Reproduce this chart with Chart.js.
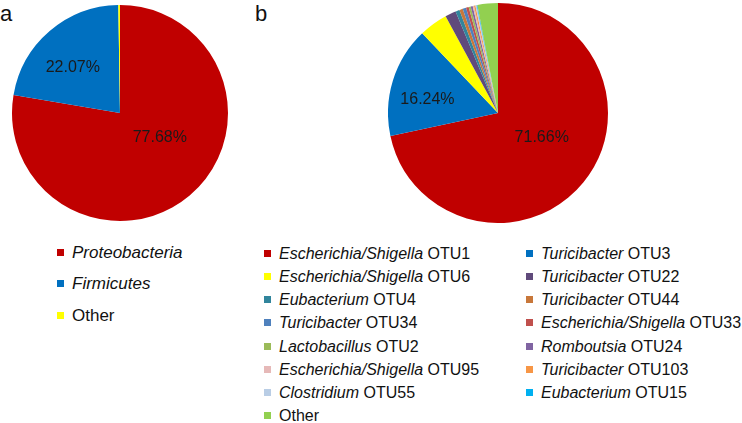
<!DOCTYPE html>
<html lang="en">
<head>
  <meta charset="UTF-8">
  <title>Pie charts a / b</title>
  <script src="https://cdn.jsdelivr.net/npm/chart.js"></script>
  <style>
    html, body { margin: 0; padding: 0; background: #fff; }
    body { width: 742px; height: 423px; position: relative; overflow: hidden;
           font-family: "Liberation Sans", Arial, sans-serif; color: #111; }
    .panel-letter { position: absolute; font-size: 22px; line-height: 22px; }
    .pie-box { position: absolute; }
    .legend { position: absolute; }
    .legend .item { position: absolute; white-space: nowrap; }
    .legend .sw { display: inline-block; width: 7px; height: 7px; margin-right: 8px; vertical-align: 2px; }
  </style>
</head>
<body>
  <div class="panel-letter" style="left:0px; top:3px;">a</div>
  <div class="panel-letter" style="left:255px; top:3px;">b</div>

  <div class="pie-box" style="left:0px; top:0px; width:240px; height:226px;">
    <canvas id="phylumChart"></canvas>
  </div>
  <div class="pie-box" style="left:388px; top:3px; width:220px; height:220px;">
    <canvas id="otuChart"></canvas>
  </div>

  <div class="legend" id="phylumLegend"></div>
  <div class="legend" id="otuLegend"></div>

<script>
  // panel a: phylum level
  const phylumNames = ['Proteobacteria', 'Firmicutes', 'Other'];
  const phylumItalic = [true, true, false];
  const phylumValues = [77.68, 22.07, 0.25];
  const phylumColors = ['#C00000', '#0070C0', '#FFFF00'];

  // panel b: OTU level (clockwise from 12 o'clock)
  const otuGenus = ['Escherichia/Shigella', 'Turicibacter', 'Escherichia/Shigella', 'Turicibacter',
    'Eubacterium', 'Turicibacter', 'Turicibacter', 'Escherichia/Shigella', 'Lactobacillus',
    'Romboutsia', 'Escherichia/Shigella', 'Turicibacter', 'Clostridium', 'Eubacterium', 'Other'];
  const otuIds = ['OTU1', 'OTU3', 'OTU6', 'OTU22', 'OTU4', 'OTU44', 'OTU34', 'OTU33', 'OTU2',
    'OTU24', 'OTU95', 'OTU103', 'OTU55', 'OTU15', ''];
  const otuValues = [71.66, 16.24, 4.2, 1.6, 0.6, 0.5, 0.5, 0.4, 0.3, 0.3, 0.2, 0.2, 0.2, 0.1, 3.0];
  const otuColors = ['#C00000', '#0070C0', '#FFFF00', '#604A7B', '#31859C', '#C8773A', '#4F81BD',
    '#C0504D', '#9BBB59', '#8064A2', '#E6B9B8', '#F79646', '#B9CDE5', '#00B0F0', '#92D050'];

  // draws "xx.xx%" on the big slices
  const pctLabels = {
    id: 'pctLabels',
    afterDatasetsDraw(chart, args, opts) {
      const ctx = chart.ctx;
      const data = chart.data.datasets[0].data;
      const arcs = chart.getDatasetMeta(0).data;
      ctx.save();
      ctx.font = '16px "Liberation Sans", Arial, sans-serif';
      ctx.fillStyle = '#1a1a1a';
      ctx.textAlign = 'center';
      ctx.textBaseline = 'middle';
      arcs.forEach((arc, i) => {
        if (data[i] < 10) return;
        const p = arc.tooltipPosition(true);
        const n = (opts.nudge && opts.nudge[i]) || [0, 0];
        ctx.fillText(data[i].toFixed(2) + '%', p.x + n[0], p.y + n[1]);
      });
      ctx.restore();
    }
  };

  function pieOptions(radius, nudge) {
    return {
      responsive: true,
      maintainAspectRatio: false,
      animation: false,
      radius: radius,
      layout: { padding: 0 },
      plugins: {
        legend: { display: false },
        tooltip: { enabled: false },
        pctLabels: { nudge: nudge }
      }
    };
  }

  new Chart(document.getElementById('phylumChart'), {
    type: 'pie',
    data: {
      labels: phylumNames,
      datasets: [{ data: phylumValues, backgroundColor: phylumColors, borderWidth: 0, hoverOffset: 0 }]
    },
    options: pieOptions(108, [[5, -17], [-12, -4]]),
    plugins: [pctLabels]
  });

  new Chart(document.getElementById('otuChart'), {
    type: 'pie',
    data: {
      labels: otuIds.map((id, i) => (otuGenus[i] + ' ' + id).trim()),
      datasets: [{ data: otuValues, backgroundColor: otuColors, borderWidth: 0, hoverOffset: 0 }]
    },
    options: pieOptions(110, [[1, -10], [-18, 3]]),
    plugins: [pctLabels]
  });

  // legends (html so the genus names can be italic)
  const legA = document.getElementById('phylumLegend');
  phylumNames.forEach((name, i) => {
    const el = document.createElement('div');
    el.className = 'item';
    el.style.left = '57px';
    el.style.top = (243 + i * 31.3) + 'px';
    el.style.fontSize = '17px';
    el.innerHTML = '<span class="sw" style="background:' + phylumColors[i] + '"></span>' +
      (phylumItalic[i] ? '<i>' + name + '</i>' : name);
    legA.appendChild(el);
  });

  const legB = document.getElementById('otuLegend');
  otuGenus.forEach((genus, i) => {
    const col = i % 2, row = Math.floor(i / 2);
    const el = document.createElement('div');
    el.className = 'item';
    el.style.left = (col ? 526 : 264) + 'px';
    el.style.top = (244.5 + row * 23.25) + 'px';
    el.style.fontSize = '16px';
    const text = otuIds[i] ? '<i>' + genus + '</i> ' + otuIds[i] : genus;
    el.innerHTML = '<span class="sw" style="background:' + otuColors[i] + '"></span>' + text;
    legB.appendChild(el);
  });
</script>
</body>
</html>
